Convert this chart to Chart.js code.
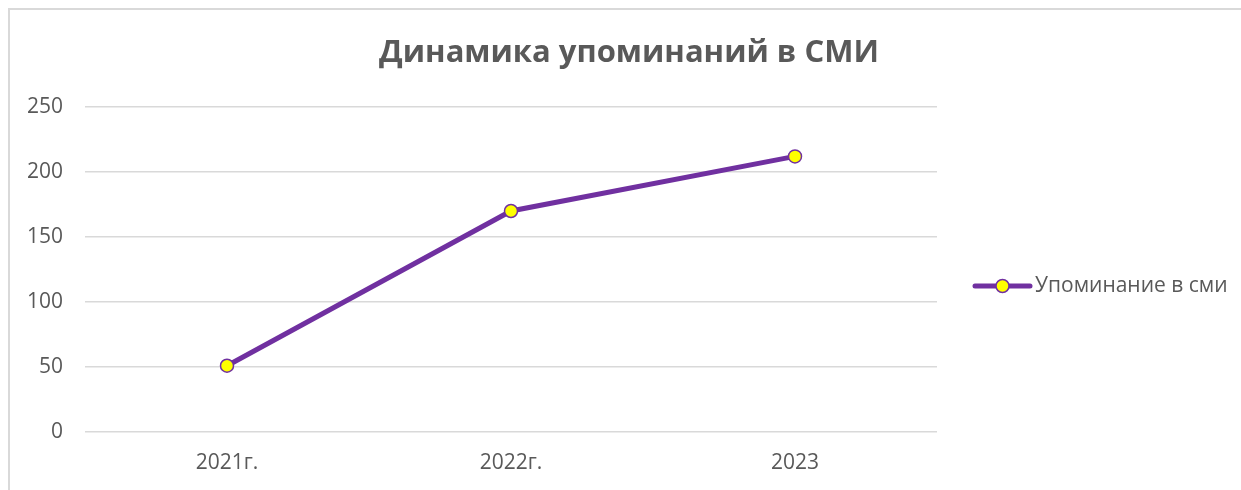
<!DOCTYPE html>
<html>
<head>
<meta charset="utf-8">
<script src="https://cdn.jsdelivr.net/npm/chart.js@4.4.1/dist/chart.umd.min.js"></script>
<style>
    html, body { margin: 0; padding: 0; background: #fff; }
    #wrap { position: absolute; left: 0; top: 0; width: 1241px; height: 490px; }
</style>
</head>
<body>
<div id="wrap"><canvas id="myChart" width="1241" height="490"></canvas></div>
<script>
const categories = ['2021г.', '2022г.', '2023'];
const mentions = [51, 170, 212];
const seriesName = 'Упоминание в сми';
const chartTitle = 'Динамика упоминаний в СМИ';
const yTicks = [0, 50, 100, 150, 200, 250];

const purple = '#7030A0';
const yellow = '#FFFF00';
const textGray = '#595959';

// frame, title and legend (Excel style) drawn on the canvas
const excelDecor = {
    id: 'excelDecor',
    beforeDraw(chart) {
        const ctx = chart.ctx;
        ctx.save();
        ctx.strokeStyle = '#d9d9d9';
        ctx.lineWidth = 2;
        ctx.beginPath();
        ctx.moveTo(9, chart.height);
        ctx.lineTo(9, 9);
        ctx.lineTo(chart.width, 9);
        ctx.stroke();
        ctx.restore();
    },
    afterDraw(chart) {
        const ctx = chart.ctx;
        const area = chart.chartArea;
        ctx.save();
        // title
        ctx.fillStyle = textGray;
        ctx.font = 'bold 31px "Open Sans"';
        ctx.textAlign = 'center';
        ctx.textBaseline = 'middle';
        ctx.fillText(chartTitle, 629, 53);

        // legend
        const ds = chart.data.datasets[0];
        const ly = 286;
        const lx = area.right + 38;
        ctx.strokeStyle = ds.borderColor;
        ctx.lineWidth = ds.borderWidth;
        ctx.lineCap = 'round';
        ctx.beginPath();
        ctx.moveTo(lx, ly);
        ctx.lineTo(lx + 55, ly);
        ctx.stroke();
        ctx.beginPath();
        ctx.arc(lx + 27.5, ly, ds.pointRadius, 0, Math.PI * 2);
        ctx.fillStyle = ds.pointBackgroundColor;
        ctx.fill();
        ctx.lineWidth = ds.pointBorderWidth;
        ctx.strokeStyle = ds.pointBorderColor;
        ctx.stroke();
        ctx.fillStyle = textGray;
        ctx.font = '21px "Open Sans"';
        ctx.textAlign = 'left';
        ctx.fillText(ds.label, lx + 60, ly);
        ctx.restore();
    }
};

function makeChart() {
    const ctx = document.getElementById('myChart').getContext('2d');
    const data = {
        labels: categories,
        datasets: [
            {
                label: seriesName,
                data: mentions,
                fill: false,
                borderColor: purple,
                backgroundColor: purple,
                borderWidth: 5,
                pointRadius: 6.5,
                pointHoverRadius: 6.5,
                pointBackgroundColor: yellow,
                pointBorderColor: purple,
                pointBorderWidth: 1.5,
                tension: 0
            }
        ]
    };
    new Chart(ctx, {
        type: 'line',
        data: data,
        options: {
            responsive: false,
            animation: false,
            layout: {
                padding: { left: 0, right: 304, top: 107, bottom: 0 }
            },
            scales: {
                x: {
                    offset: true,
                    grid: { display: false, drawTicks: false },
                    border: { display: false },
                    ticks: {
                        color: textGray,
                        padding: 18,
                        font: { family: 'Open Sans', size: 21 }
                    },
                    afterFit: (scale) => { scale.height = 58; }
                },
                y: {
                    min: 0,
                    max: 250,
                    afterBuildTicks: (scale) => {
                        scale.ticks = yTicks.map(v => ({ value: v }));
                    },
                    grid: { color: '#d9d9d9', lineWidth: 1.5, drawTicks: false },
                    border: { display: false },
                    ticks: {
                        color: textGray,
                        padding: 22,
                        font: { family: 'Open Sans', size: 21 }
                    },
                    afterFit: (scale) => { scale.width = 85; }
                }
            },
            plugins: {
                legend: { display: false },
                title: { display: false },
                tooltip: { enabled: false }
            }
        },
        plugins: [excelDecor]
    });
}

makeChart();
</script>
</body>
</html>
